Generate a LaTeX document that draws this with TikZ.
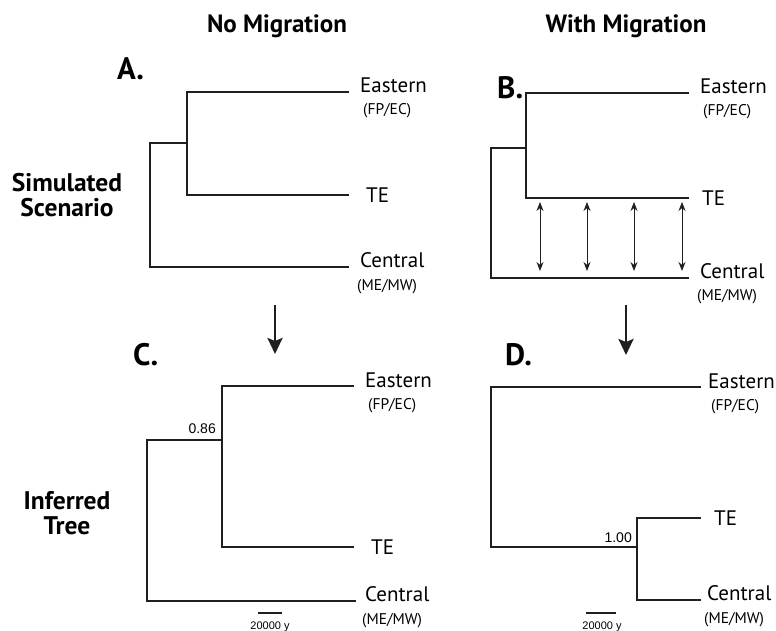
\documentclass[tikz,border=0pt]{standalone}
\usepackage{fontspec}
\setmainfont{PT Sans}
\newfontfamily\arialfont{Liberation Sans}
\usetikzlibrary{arrows.meta}
\begin{document}
\begin{tikzpicture}[x=1pt,y=-1pt,
 br/.style={line width=1.2pt, draw=black!88, line cap=rect},
 lab/.style={inner sep=0, anchor=base west, font=\fontsize{21}{21}\selectfont},
 sub/.style={inner sep=0, anchor=base west, font=\fontsize{15.5}{15.5}\selectfont},
 telab/.style={inner sep=0, anchor=west, font=\fontsize{21}{21}\selectfont},
 panel/.style={inner sep=0, anchor=base west, font=\bfseries\fontsize{31}{31}\selectfont},
 head/.style={inner sep=0, anchor=base, font=\bfseries\fontsize{25}{25}\selectfont},
 rowlab/.style={inner sep=0, anchor=base, font=\bfseries\fontsize{25.5}{25.5}\selectfont},
 supp/.style={inner sep=0, anchor=base east, font=\arialfont\fontsize{14}{14}\selectfont},
 scl/.style={inner sep=0, anchor=base, font=\arialfont\fontsize{11}{11}\selectfont},
 flow/.style={line width=2.6pt, draw=black!88, -{Stealth[length=16pt,width=15pt,inset=3pt]}},
 mig/.style={line width=1pt, draw=black!88, {Stealth[length=9pt,width=7pt]}-{Stealth[length=9pt,width=7pt]}},
 sbar/.style={line width=1.2pt, draw=black!88},
]
\useasboundingbox (0,0) rectangle (776,631);

% headings
\node[head] (h1) at (277,33) {No Migration};
\node[head] (h2) at (626,33) {With Migration};
\node[rowlab] (r1) at (67,192) {Simulated};
\node[rowlab] (r2) at (67,217) {Scenario};
\node[rowlab] (r3) at (67,509) {Inferred};
\node[rowlab] (r4) at (67,534) {Tree};
\node[panel] (pA) at (117,80) {A.};
\node[panel] (pB) at (497,99) {B.};
\node[panel] (pC) at (133,365) {C.};
\node[panel] (pD) at (505,365) {D.};

% ---------- Tree A ----------
\coordinate (a0) at (150,143);
\coordinate (a1) at (187,143);
\coordinate (aE0) at (187,92);
\coordinate (aE1) at (348,92);
\coordinate (aT0) at (187,195);
\coordinate (aT1) at (348,195);
\coordinate (aC0) at (150,267);
\coordinate (aC1) at (348,267);
\draw[br] (aE1) -- (aE0) -- (aT0) -- (aT1);
\draw[br] (a1) -- (a0) -- (aC0) -- (aC1);
\node[lab] (aE) at (360,93) {Eastern};
\node[sub] (aEs) at (363,115) {(FP/EC)};
\node[telab] (aT) at (366,195) {TE};
\node[lab] (aC) at (360,267) {Central};
\node[sub] (aCs) at (357,290) {(ME/MW)};

% ---------- Tree B ----------
\coordinate (b0) at (491,148);
\coordinate (b1) at (526,148);
\coordinate (bE0) at (526,93);
\coordinate (bE1) at (688,93);
\coordinate (bT0) at (526,198);
\coordinate (bT1) at (688,198);
\coordinate (bC0) at (491,278);
\coordinate (bC1) at (688,278);
\draw[br] (bE1) -- (bE0) -- (bT0) -- (bT1);
\draw[br] (b1) -- (b0) -- (bC0) -- (bC1);
\node[lab] (bE) at (700,94) {Eastern};
\node[sub] (bEs) at (703,116) {(FP/EC)};
\node[telab] (bT) at (702,198) {TE};
\node[lab] (bC) at (700,278) {Central};
\node[sub] (bCs) at (697,300) {(ME/MW)};
\foreach \x [count=\i] in {540,587,634,682}{
  \coordinate (mt\i) at (\x,202);
  \coordinate (mb\i) at (\x,271);
  \draw[mig] (mt\i) -- (mb\i);
}

% ---------- arrows ----------
\coordinate (f1a) at (275,305);
\coordinate (f1b) at (275,354);
\coordinate (f2a) at (626,305);
\coordinate (f2b) at (626,355);
\draw[flow] (f1a) -- (f1b);
\draw[flow] (f2a) -- (f2b);

% ---------- Tree C ----------
\coordinate (c0) at (147,440);
\coordinate (c1) at (222,440);
\coordinate (cE0) at (222,386);
\coordinate (cE1) at (353,386);
\coordinate (cT0) at (222,547);
\coordinate (cT1) at (353,547);
\coordinate (cC0) at (147,601);
\coordinate (cC1) at (355,601);
\draw[br] (cE1) -- (cE0) -- (cT0) -- (cT1);
\draw[br] (c1) -- (c0) -- (cC0) -- (cC1);
\node[supp] (cs) at (216,433) {0.86};
\node[lab] (cE) at (365,387) {Eastern};
\node[sub] (cEs) at (368,409) {(FP/EC)};
\node[telab] (cT) at (371,547) {TE};
\node[lab] (cC) at (365,601) {Central};
\node[sub] (cCs) at (362,624) {(ME/MW)};
\coordinate (cb0) at (258,613);
\coordinate (cb1) at (282,613);
\draw[sbar] (cb0) -- (cb1);
\node[scl] (cbl) at (270,629) {20000 y};

% ---------- Tree D ----------
\coordinate (dE0) at (491,387);
\coordinate (dE1) at (700,387);
\coordinate (d0) at (491,547);
\coordinate (d1) at (637,547);
\coordinate (dT0) at (637,518);
\coordinate (dT1) at (700,518);
\coordinate (dC0) at (637,600);
\coordinate (dC1) at (700,600);
\draw[br] (dE1) -- (dE0) -- (d0) -- (d1);
\draw[br] (dT1) -- (dT0) -- (dC0) -- (dC1);
\node[supp] (ds) at (632,542) {1.00};
\node[lab] (dE) at (708,388) {Eastern};
\node[sub] (dEs) at (711,410) {(FP/EC)};
\node[telab] (dT) at (714,518) {TE};
\node[lab] (dC) at (707,600) {Central};
\node[sub] (dCs) at (704,623) {(ME/MW)};
\coordinate (db0) at (586,613);
\coordinate (db1) at (616,613);
\draw[sbar] (db0) -- (db1);
\node[scl] (dbl) at (602,629) {20000 y};
\end{tikzpicture}
\end{document}
